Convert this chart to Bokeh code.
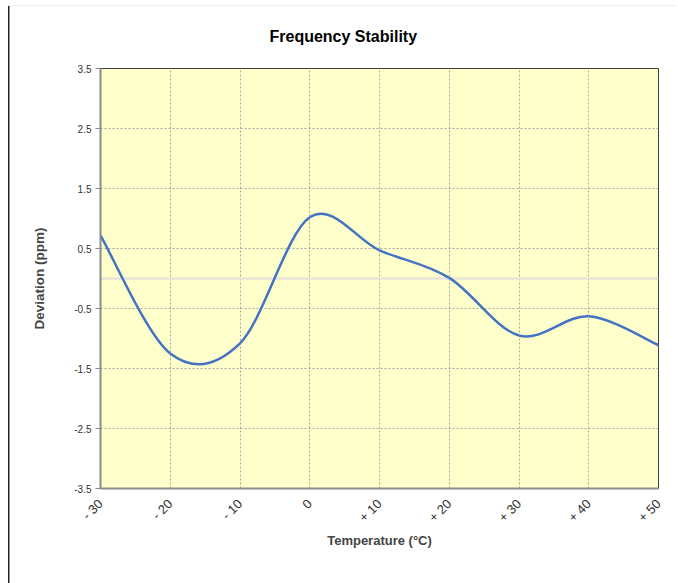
import math
from bokeh.plotting import figure
from bokeh.models import Range1d, FixedTicker, Span, ColumnDataSource
from bokeh.embed import file_html
from bokeh.resources import INLINE

# ---- data ----
temps = [-30, -20, -10, 0, 10, 20, 30, 40, 50]
deviation = [0.72, -1.25, -1.08, 1.02, 0.47, 0.01, -0.95, -0.63, -1.11]
x_ticks = [-30, -20, -10, 0, 10, 20, 30, 40, 50]
x_tick_labels = ["- 30", "- 20", "- 10", "0", "+ 10", "+ 20", "+ 30", "+ 40", "+ 50"]
y_ticks = [3.5, 2.5, 1.5, 0.5, -0.5, -1.5, -2.5, -3.5]
y_tick_labels = ["3.5", "2.5", "1.5", "0.5", "-0.5", "-1.5", "-2.5", "-3.5"]

FONT = "Liberation Sans"

p = figure(width=677, height=583, output_backend="svg", toolbar_location=None,
           x_range=Range1d(-30, 50), y_range=Range1d(-3.5, 3.5),
           title="Frequency Stability",
           min_border_left=100, min_border_right=19, min_border_top=68, min_border_bottom=95)
p.styles = {
    "background": "linear-gradient(#222222, #222222) 8px 6px / 1.5px 100% no-repeat, "
                  "linear-gradient(#eeeeee, #eeeeee) 8px 5px / 100% 1px no-repeat, white"
}

p.background_fill_color = "#FFFFCC"
p.border_fill_color = "white"
p.border_fill_alpha = 0
p.outline_line_color = "#404040"
p.outline_line_width = 1

p.title.text_font = FONT
p.title.text_font_size = "16px"
p.title.text_font_style = "bold"
p.title.text_color = "black"
p.title.align = "left"
p.title.offset = 169
p.title.standoff = 48

# grid
p.xgrid.ticker = FixedTicker(ticks=x_ticks)
p.ygrid.ticker = FixedTicker(ticks=y_ticks)
for g in (p.xgrid, p.ygrid):
    g.grid_line_color = "#A6A6A6"
    g.grid_line_dash = "2 2"
    g.grid_line_width = 1

# zero line
p.add_layout(Span(location=0, dimension="width", line_color="#E6E6DA", line_width=2.5,
                  level="underlay"))

# axes
xa = p.xaxis[0]
xa.ticker = FixedTicker(ticks=x_ticks)
xa.major_label_overrides = {t: l for t, l in zip(x_ticks, x_tick_labels)}
xa.major_label_orientation = math.pi / 4
xa.major_label_text_font = FONT
xa.major_label_text_font_size = "13px"
xa.major_label_text_color = "#333333"
xa.major_tick_line_color = None
xa.minor_tick_line_color = None
xa.axis_line_color = "#8C8C8C"
xa.axis_line_width = 2
xa.axis_label = "Temperature (°C)"
xa.axis_label_text_font = FONT
xa.axis_label_text_font_style = "bold"
xa.axis_label_text_font_size = "13px"
xa.axis_label_standoff = 0
xa.major_label_standoff = 7

ya = p.yaxis[0]
ya.ticker = FixedTicker(ticks=y_ticks)
ya.major_label_overrides = {t: l for t, l in zip(y_ticks, y_tick_labels)}
ya.major_label_text_font = FONT
ya.major_label_text_font_size = "10px"
ya.major_label_text_color = "#333333"
ya.major_tick_out = 5
ya.major_tick_in = 0
ya.major_tick_line_color = "#8C8C8C"
ya.minor_tick_line_color = None
ya.axis_line_color = "#8C8C8C"
ya.axis_line_width = 2
ya.axis_label = "Deviation (ppm)"
ya.axis_label_text_font = FONT
ya.axis_label_text_font_style = "bold"
ya.axis_label_text_font_size = "13.5px"
ya.axis_label_standoff = 24
ya.major_label_standoff = 4

# smoothed line (Catmull-Rom as cubic Bezier segments, like a spreadsheet's smoothed line)
n = len(temps)
seg = dict(x0=[], y0=[], x1=[], y1=[], cx0=[], cy0=[], cx1=[], cy1=[])
for i in range(n - 1):
    a = max(i - 1, 0)
    d = min(i + 2, n - 1)
    seg["x0"].append(temps[i]); seg["y0"].append(deviation[i])
    seg["x1"].append(temps[i + 1]); seg["y1"].append(deviation[i + 1])
    seg["cx0"].append(temps[i] + (temps[i + 1] - temps[a]) / 6)
    seg["cy0"].append(deviation[i] + (deviation[i + 1] - deviation[a]) / 6)
    seg["cx1"].append(temps[i + 1] - (temps[d] - temps[i]) / 6)
    seg["cy1"].append(deviation[i + 1] - (deviation[d] - deviation[i]) / 6)
p.bezier(x0="x0", y0="y0", x1="x1", y1="y1", cx0="cx0", cy0="cy0", cx1="cx1", cy1="cy1",
         source=ColumnDataSource(seg), line_color="#4472C4", line_width=2.5)

open("out.html", "w").write(file_html(p, INLINE))
